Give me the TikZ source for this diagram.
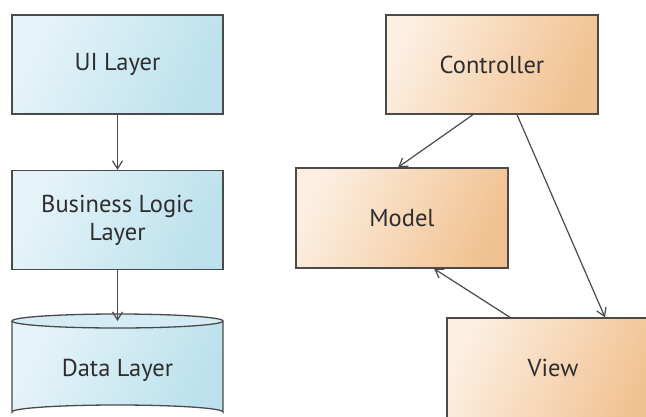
\documentclass[tikz,border=0pt]{standalone}
\usepackage{fontspec}
\setmainfont{PT Sans}
\usetikzlibrary{arrows.meta,calc}
\definecolor{edge}{HTML}{4A4A4A}
\definecolor{ink}{HTML}{2E2E2E}
\definecolor{blueA}{HTML}{E6F4F9}
\definecolor{blueB}{HTML}{BCE1EC}
\definecolor{orangeA}{HTML}{FCEEE0}
\definecolor{orangeB}{HTML}{F1C291}
\tikzset{
  x=1pt, y=-1pt,
  label font/.style={font=\fontsize{24.5}{28}\selectfont},
  layer/.style={draw=edge, line width=1.3pt, text=ink, align=center, label font},
  bluebox/.style={layer, left color=blueA, right color=blueB, shading angle=65},
  orangebox/.style={layer, left color=orangeA, right color=orangeB, shading angle=65},
  link/.style={draw=edge, line width=1.2pt, -{Straight Barb[length=8pt,width=10pt]}}
}
\begin{document}
\begin{tikzpicture}
\useasboundingbox (0,0) rectangle (646,416);
\clip (0,0) rectangle (646,416);
\fill[white] (0,0) rectangle (646,416);

% layered architecture
\node[bluebox, minimum width=211pt, minimum height=99pt] (ui) at (117.5,64.5) {UI Layer};
\node[bluebox, minimum width=211pt, minimum height=99pt] (biz) at (117.5,220) {Business Logic\\Layer};

% data store drawn as a cylinder
\path[left color=blueA, right color=blueB, shading angle=65]
  (12,321) -- (12,412) arc[start angle=180, end angle=360, x radius=105.5, y radius=7]
  -- (223,321) -- cycle;
\draw[edge, line width=1.3pt]
  (12,321) -- (12,412) arc[start angle=180, end angle=360, x radius=105.5, y radius=7]
  -- (223,321);
\draw[edge, line width=1.3pt, fill=blueA!60!blueB] (117.5,321) ellipse[x radius=105.5, y radius=7];
\coordinate (datatop) at (117.5,321);
\node[text=ink, label font] (data) at (117.5,370) {Data Layer};

\draw[link] (ui.south) -- (biz.north);
\draw[link] (biz.south) -- (datatop);

% model-view-controller
\node[orangebox, minimum width=212pt, minimum height=99pt] (ctrl) at (492,64.5) {Controller};
\node[orangebox, minimum width=212pt, minimum height=100pt] (model) at (402,218) {Model};
\node[orangebox, minimum width=212pt, minimum height=100pt] (view) at (553,368) {View};

\draw[link] ($(ctrl.south)+(-19,0)$) -- ($(model.north)+(-4,0)$);
\draw[link] ($(ctrl.south)+(25,0)$) -- ($(view.north)+(52,0)$);
\draw[link] ($(view.north)+(-43,0)$) -- ($(model.south)+(32,0)$);
\end{tikzpicture}
\end{document}
